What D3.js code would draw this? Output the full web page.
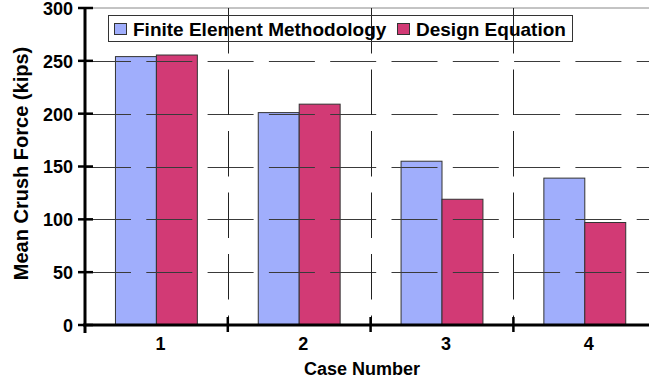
<!DOCTYPE html>
<html><head><meta charset="utf-8">
<script src="https://cdn.jsdelivr.net/npm/d3@7"></script>
<style>html,body{margin:0;padding:0;background:#fff;overflow:hidden}text{font-family:Arial,"Liberation Sans",sans-serif;font-weight:bold;fill:#000}</style>
</head><body><svg id="c" width="649" height="383"></svg>
<script>
const categories = ["1","2","3","4"];
const seriesNames = ["Finite Element Methodology","Design Equation"];
const femValues = [254, 201, 155, 139];
const designValues = [255.5, 209, 119, 97];
const yTicks = [0,50,100,150,200,250,300];
const colors = ["#A0AEFC","#D23A75"];
const xTitle = "Case Number";
const yTitle = "Mean Crush Force (kips)";

const svg = d3.select("#c");
const L = 85, T = 8, B = 325, step = 142.8;
const R = L + step*categories.length;
const x0 = d3.scaleBand().domain(categories).range([L, R]).padding(0);
const x1 = d3.scaleBand().domain(seriesNames).range([0, x0.bandwidth()]).paddingInner(0).paddingOuter(0.744);
const y = d3.scaleLinear().domain([0,300]).range([B, T]);
const data = categories.map((c,i)=>({cat:c, vals:[femValues[i], designValues[i]]}));

// top border
svg.append("line").attr("x1",L).attr("x2",649).attr("y1",y(300)).attr("y2",y(300)).attr("stroke","#888").attr("stroke-width",1);

// bars
const g = svg.append("g");
data.forEach(d=>{
  d.vals.forEach((v,j)=>{
    g.append("rect").attr("x",x0(d.cat)+x1(seriesNames[j])).attr("width",x1.bandwidth())
     .attr("y",y(v)).attr("height",y(0)-y(v)).attr("fill",colors[j]).attr("stroke","#333").attr("stroke-width",1);
  });
});

// horizontal gridlines
svg.append("g").selectAll("line").data(yTicks.filter(t=>t>0&&t<300)).join("line")
  .attr("x1",L).attr("x2",660).attr("y1",d=>Math.round(y(d))+0.5).attr("y2",d=>Math.round(y(d))+0.5)
  .attr("stroke","#3a3a3a").attr("stroke-width",1).attr("stroke-dasharray","46,15.3");
// vertical gridlines
svg.append("g").selectAll("line").data(categories.slice(1)).join("line")
  .attr("x1",d=>Math.round(x0(d))+0.5).attr("x2",d=>Math.round(x0(d))+0.5).attr("y1",T).attr("y2",B)
  .attr("stroke","#222").attr("stroke-width",1).attr("stroke-dasharray","45.5,16");

// legend
const lg = svg.append("g");
lg.append("rect").attr("x",108.5).attr("y",15.5).attr("width",464).attr("height",26).attr("fill","none").attr("stroke","#333");
const legItems = [{x:114, tx:133},{x:397, tx:416}];
seriesNames.forEach((s,j)=>{
  lg.append("rect").attr("x",legItems[j].x+0.5).attr("y",23.5).attr("width",12).attr("height",11).attr("fill",colors[j]).attr("stroke","#333");
  lg.append("text").attr("x",legItems[j].tx).attr("y",36).attr("font-size",19).text(s);
});

// y axis
const yAxis = d3.axisLeft(y).tickValues(yTicks).tickSize(0).tickPadding(12);
const ya = svg.append("g").attr("transform",`translate(${L},0)`).call(yAxis);
ya.select(".domain").remove();
ya.selectAll("text").attr("font-size",18).attr("font-family","Arial, 'Liberation Sans', sans-serif").attr("font-weight","bold").attr("dy","0.36em");
svg.append("g").selectAll("line").data(yTicks).join("line")
  .attr("x1",L-7).attr("x2",L+8).attr("y1",d=>y(d)).attr("y2",d=>y(d)).attr("stroke","#000").attr("stroke-width",2.5);
svg.append("line").attr("x1",L).attr("x2",L).attr("y1",T).attr("y2",B+8).attr("stroke","#000").attr("stroke-width",3);

// x axis
svg.append("line").attr("x1",L-2).attr("x2",660).attr("y1",B).attr("y2",B).attr("stroke","#000").attr("stroke-width",3);
svg.append("g").selectAll("line").data(categories.slice(1)).join("line")
  .attr("x1",d=>x0(d)).attr("x2",d=>x0(d)).attr("y1",B-8).attr("y2",B+7).attr("stroke","#000").attr("stroke-width",2.5);
const xAxis = d3.axisBottom(x0).tickSize(0).tickPadding(12);
const xa = svg.append("g").attr("transform",`translate(0,${B})`).call(xAxis);
xa.select(".domain").remove();
xa.selectAll("text").attr("font-size",18).attr("font-family","Arial, 'Liberation Sans', sans-serif").attr("font-weight","bold").attr("dx",4);

// titles
svg.append("text").attr("x",362).attr("y",375).attr("text-anchor","middle").attr("font-size",18).text(xTitle);
svg.append("text").attr("transform","translate(28,163.5) rotate(-90)").attr("text-anchor","middle").attr("font-size",20).text(yTitle);
</script></body></html>
